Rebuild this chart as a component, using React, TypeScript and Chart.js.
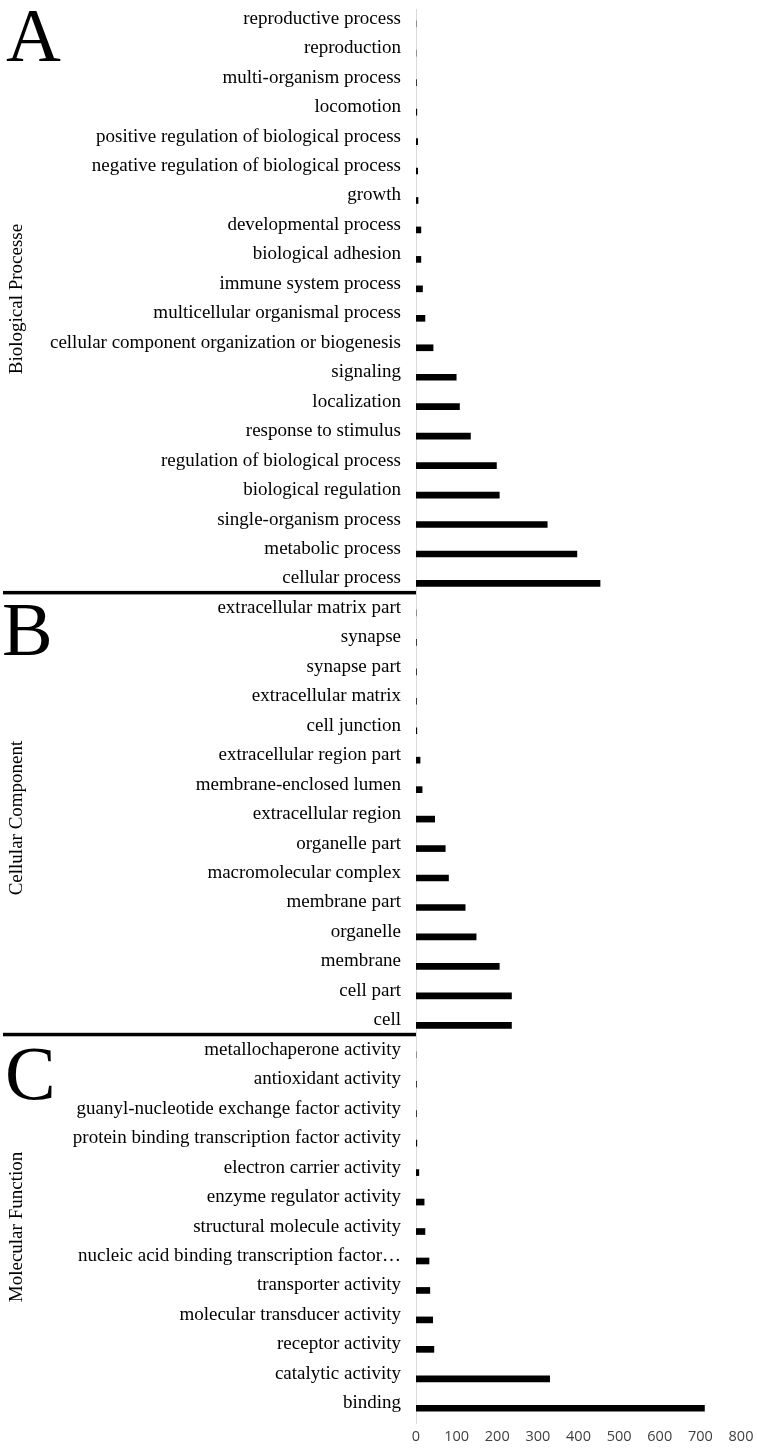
import React, { useEffect, useRef } from 'react';
import { Chart, registerables } from 'chart.js';

Chart.register(...registerables);

const bpLabels = [
  'reproductive process',
  'reproduction',
  'multi-organism process',
  'locomotion',
  'positive regulation of biological process',
  'negative regulation of biological process',
  'growth',
  'developmental process',
  'biological adhesion',
  'immune system process',
  'multicellular organismal process',
  'cellular component organization or biogenesis',
  'signaling',
  'localization',
  'response to stimulus',
  'regulation of biological process',
  'biological regulation',
  'single-organism process',
  'metabolic process',
  'cellular process',
];
const bpValues = [0, 0, 1, 2, 4, 4, 5, 12, 12, 16, 22, 42, 99, 107, 134, 198, 205, 323, 396, 453];

const ccLabels = [
  'extracellular matrix part',
  'synapse',
  'synapse part',
  'extracellular matrix',
  'cell junction',
  'extracellular region part',
  'membrane-enclosed lumen',
  'extracellular region',
  'organelle part',
  'macromolecular complex',
  'membrane part',
  'organelle',
  'membrane',
  'cell part',
  'cell',
];
const ccValues = [0, 1, 1, 1, 2, 10, 15, 46, 72, 80, 121, 148, 205, 235, 235];

const mfLabels = [
  'metallochaperone activity',
  'antioxidant activity',
  'guanyl-nucleotide exchange factor activity',
  'protein binding transcription factor activity',
  'electron carrier activity',
  'enzyme regulator activity',
  'structural molecule activity',
  'nucleic acid binding transcription factor…',
  'transporter activity',
  'molecular transducer activity',
  'receptor activity',
  'catalytic activity',
  'binding',
];
const mfValues = [0, 1, 1, 2, 7, 20, 22, 32, 34, 41, 44, 329, 710];

const xTickValues = [0, 100, 200, 300, 400, 500, 600, 700, 800];
const sectionTitles = ['Biological Processe', 'Cellular Component', 'Molecular Function'];
const sectionLetters = ['A', 'B', 'C'];

const SERIF = '"Liberation Serif", "Times New Roman", serif';

export default function App() {
  const ref = useRef<HTMLCanvasElement | null>(null);

  useEffect(() => {
    if (!ref.current) return;
    const labels = [...bpLabels, ...ccLabels, ...mfLabels];
    const values = [...bpValues, ...ccValues, ...mfValues];
    const sectionStarts = [0, bpLabels.length, bpLabels.length + ccLabels.length];

    const decor = {
      id: 'decor',
      afterDraw(chart: any) {
        const ctx = chart.ctx;
        const ys = chart.scales.y;
        const left = chart.chartArea.left;
        ctx.save();
        ctx.fillStyle = '#000';
        // separators between sections
        [sectionStarts[1], sectionStarts[2]].forEach((idx) => {
          const y = (ys.getPixelForValue(idx - 1) + ys.getPixelForValue(idx)) / 2 - 5.5;
          ctx.fillRect(3, y - 1.75, left - 3, 3.5);
        });
        // big section letters
        ctx.font = `76px ${SERIF}`;
        ctx.textAlign = 'left';
        ctx.textBaseline = 'alphabetic';
        const letterPos = [
          [6, 61],
          [2, 655],
          [5, 1099],
        ];
        sectionLetters.forEach((l, i) => ctx.fillText(l, letterPos[i][0], letterPos[i][1]));
        // rotated section titles
        ctx.font = `19px ${SERIF}`;
        ctx.textAlign = 'center';
        const titleCenters = [299, 818, 1227];
        sectionTitles.forEach((t, i) => {
          ctx.save();
          ctx.translate(22, titleCenters[i]);
          ctx.rotate(-Math.PI / 2);
          ctx.fillText(t, 0, 0);
          ctx.restore();
        });
        ctx.restore();
      },
    };

    const chart = new Chart(ref.current, {
      type: 'bar',
      data: {
        labels,
        datasets: [
          {
            data: values,
            backgroundColor: '#000',
            borderWidth: 0,
            barThickness: 6,
          },
        ],
      },
      options: {
        indexAxis: 'y',
        animation: false,
        responsive: false,
        layout: { padding: { top: 9, right: 16, bottom: 0, left: 0 } },
        plugins: {
          legend: { display: false },
          tooltip: { enabled: false },
        },
        scales: {
          x: {
            min: 0,
            max: 800,
            grid: { display: false, drawTicks: false },
            border: { display: false },
            ticks: {
              stepSize: 100,
              padding: 5,
              color: '#404040',
              font: { family: '"Open Sans", sans-serif', size: 14.5 },
              callback: (v: any) => (xTickValues.includes(Number(v)) ? String(v) : ''),
            },
            afterFit: (s: any) => {
              s.height = 26;
              s.paddingLeft = 0;
              s.paddingRight = 0;
            },
          },
          y: {
            type: 'category',
            grid: { display: false, drawTicks: false },
            border: { display: true, color: '#d9d9d9', width: 1 },
            ticks: {
              autoSkip: false,
              padding: 15,
              labelOffset: -5,
              color: '#000',
              font: { family: SERIF, size: 19 },
            },
            afterFit: (s: any) => {
              s.width = 416;
              s.paddingTop = 0;
              s.paddingBottom = 0;
            },
          },
        },
      },
      plugins: [decor],
    });
    return () => chart.destroy();
  }, []);

  return (
    <div style={{ position: 'absolute', left: 0, top: 0, width: 757, height: 1449 }}>
      <canvas ref={ref} width={757} height={1449} style={{ display: 'block', width: 757, height: 1449 }} />
    </div>
  );
}
